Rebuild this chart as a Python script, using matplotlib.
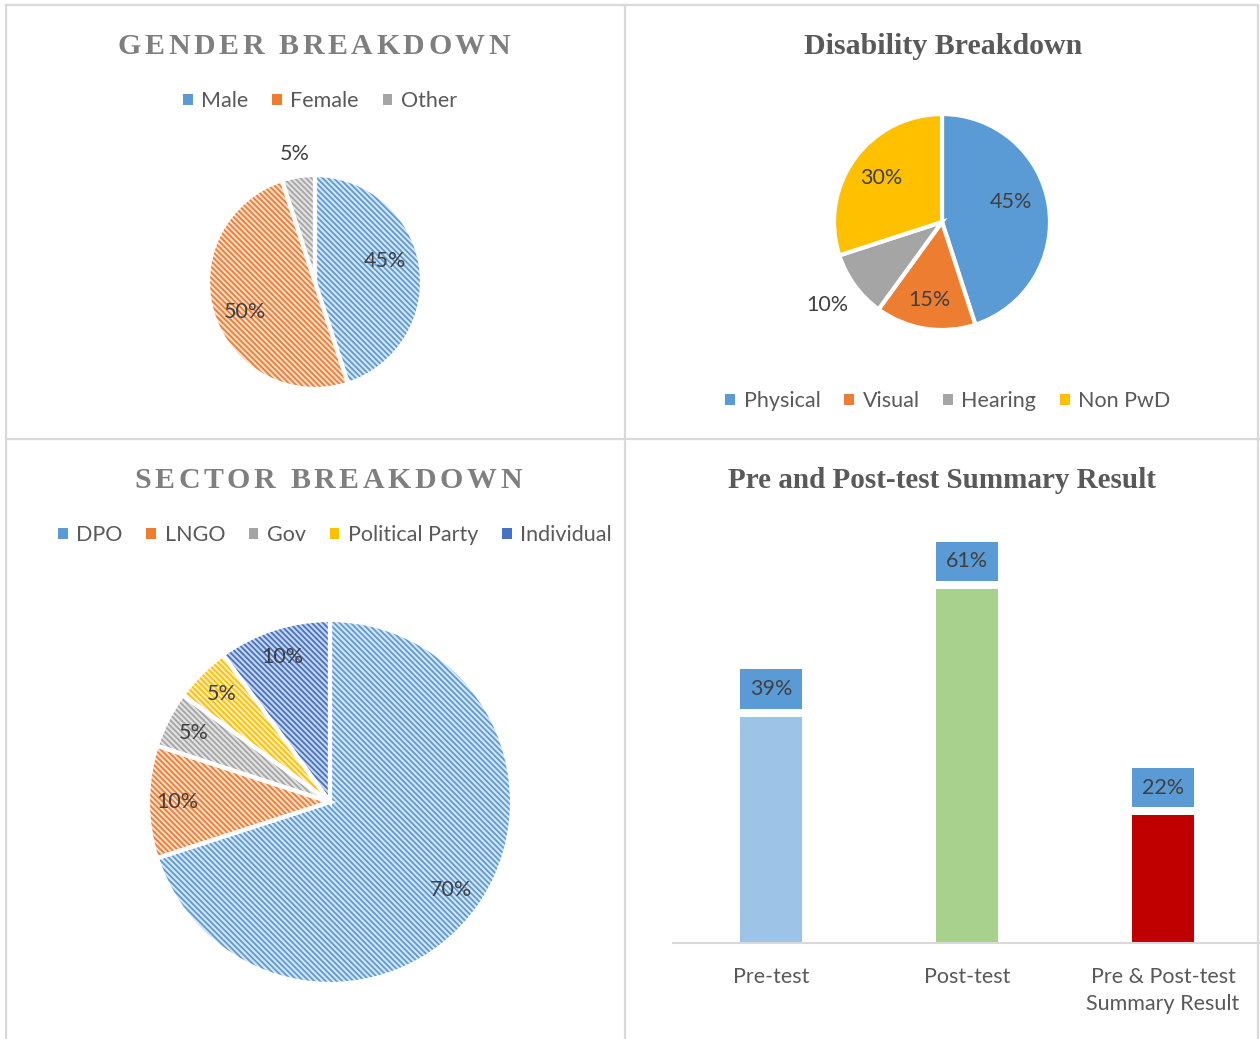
import numpy as np
import matplotlib
matplotlib.use('agg')
from matplotlib import pyplot as plt
from matplotlib.lines import Line2D
from matplotlib.patches import Patch

plt.rcParams['font.family'] = ['Lato', 'DejaVu Sans']
plt.rcParams['hatch.linewidth'] = 1.3

# ---- data ----
gender_labels = ['Male', 'Female', 'Other']
gender_values = [45, 50, 5]

disab_labels = ['Physical', 'Visual', 'Hearing', 'Non PwD']
disab_values = [45, 15, 10, 30]

sector_labels = ['DPO', 'LNGO', 'Gov', 'Political Party', 'Individual']
sector_values = [70, 10, 5, 5, 10]

test_labels = ['Pre-test', 'Post-test', 'Pre & Post-test\nSummary Result']
test_values = [39, 61, 22]

# ---- styles ----
W, H = 1260, 1039
TXT = '#404040'
LEG = '#595959'
gender_stripes = ['#5B9BD5', '#ED7D31', '#A5A5A5']
gender_tints = ['#D6E5F5', '#FADCC8', '#E2E2E2']
disab_colors = ['#5B9BD5', '#ED7D31', '#A5A5A5', '#FFC000']
sector_stripes = ['#5B9BD5', '#ED7D31', '#A5A5A5', '#FFC000', '#4472C4']
sector_tints = ['#D6E5F5', '#FADCC8', '#E2E2E2', '#FFEDB8', '#C8D5EE']
bar_colors = ['#9DC3E6', '#A9D18E', '#C00000']

fig = plt.figure(figsize=(W / 100, H / 100), dpi=100)
renderer = fig.canvas.get_renderer()


def fx(px):
    return px / W


def fy(py):
    return 1 - py / H


def pie_axes(cx, cy, r):
    ax = fig.add_axes([fx(cx - r), fy(cy + r), 2 * r / W, 2 * r / H])
    ax.axis('off')
    return ax


def fix_limits(ax):
    ax.set_xlim(-1, 1)
    ax.set_ylim(-1, 1)


def hatched_pie(ax, values, tints, stripes):
    wedges, _ = ax.pie(values, colors=tints, startangle=90, counterclock=False,
                       radius=1, wedgeprops=dict(linewidth=0, hatch='\\\\\\\\\\\\'))
    for w, c in zip(wedges, stripes):
        w.set_edgecolor(c)
        w.set_linewidth(0)
    ax.pie(values, colors=['none'] * len(values), startangle=90, counterclock=False,
           radius=1, wedgeprops=dict(edgecolor='white', linewidth=3, fill=False))
    fix_limits(ax)
    return wedges


def pct_labels(ax, wedges, values, dists, shifts, size=15.5):
    for w, v, d, s in zip(wedges, values, dists, shifts):
        ang = np.deg2rad((w.theta1 + w.theta2) / 2 + s)
        ax.text(d * np.cos(ang), d * np.sin(ang), f'{v}%', ha='center', va='center',
                fontsize=size, color=TXT)


def spaced_title(s, xc, yc, spacing, **kw):
    widths = []
    for ch in s:
        if ch == ' ':
            a = fig.text(0, 0, 'I I', **kw)
            b = fig.text(0, 0, 'II', **kw)
            w = a.get_window_extent(renderer).width - b.get_window_extent(renderer).width
            a.remove()
            b.remove()
        else:
            t = fig.text(0, 0, ch, **kw)
            w = t.get_window_extent(renderer).width
            t.remove()
        widths.append(w)
    total = sum(widths) + spacing * (len(s) - 1)
    x = xc - total / 2
    for ch, w in zip(s, widths):
        if ch != ' ':
            fig.text(fx(x + w / 2), fy(yc), ch, ha='center', va='center', **kw)
        x += w + spacing


def legend(labels, colors, xc, yc):
    handles = [Patch(facecolor=c, edgecolor='none') for c in colors]
    fig.legend(handles, labels, loc='center', bbox_to_anchor=(fx(xc), fy(yc)),
               ncol=len(labels), frameon=False, fontsize=15.5, labelcolor=LEG,
               handlelength=0.45, handleheight=0.45, handletextpad=0.4, columnspacing=1.1)


title_kw = dict(family='Liberation Serif', fontweight='bold', fontsize=21.5)

# ---- panel borders ----
bc = '#D9D9D9'
for xs, ys in [([6, 1258], [5, 5]), ([6, 1260], [439, 439]),
               ([6, 6], [5, 1039]), ([625, 625], [5, 1039]), ([1258, 1258], [5, 1039])]:
    fig.add_artist(Line2D([fx(x) for x in xs], [fy(y) for y in ys], color=bc, lw=1.6))

# ---- Gender ----
spaced_title('GENDER BREAKDOWN', 314, 46, 3.6, color='#7F7F7F', **title_kw)
ax1 = pie_axes(315, 282, 107)
w1 = hatched_pie(ax1, gender_values, gender_tints, gender_stripes)
pct_labels(ax1, w1, gender_values, [0.68, 0.71, 1.21], [8, 5, 0])
legend(gender_labels, gender_stripes, 320, 101)

# ---- Disability ----
fig.text(fx(943), fy(46), 'Disability Breakdown', ha='center', va='center', color='#595959', **title_kw)
ax2 = pie_axes(942, 222, 108)
w2, _ = ax2.pie(disab_values, colors=disab_colors, startangle=90, counterclock=False,
                wedgeprops=dict(edgecolor='white', linewidth=3))
fix_limits(ax2)
pct_labels(ax2, w2, disab_values, [0.66, 0.73, 1.31, 0.70], [7, 0, 0, 0])
legend(disab_labels, disab_colors, 948, 401)

# ---- Sector ----
spaced_title('SECTOR BREAKDOWN', 328, 480, 3.6, color='#7F7F7F', **title_kw)
ax3 = pie_axes(330, 802, 182)
w3 = hatched_pie(ax3, sector_values, sector_tints, sector_stripes)
pct_labels(ax3, w3, sector_values, [0.82, 0.84, 0.84, 0.84, 0.84], [0, 0, 0, 0, 0])
legend(sector_labels, sector_stripes, 335, 535)

# ---- Pre/Post bar ----
fig.text(fx(942), fy(480), 'Pre and Post-test Summary Result', ha='center', va='center',
         color='#595959', family='Liberation Serif', fontweight='bold', fontsize=21)
ax4 = fig.add_axes([fx(673), fy(943), 588 / W, 403 / H])
x = np.arange(len(test_values))
ax4.bar(x, test_values, width=0.316, color=bar_colors)
ax4.set_xlim(-0.5, 2.5)
ax4.set_ylim(0, 403 / 5.803)
for xi, v in zip(x, test_values):
    ax4.annotate(f'{v}%', (xi, v), xytext=(0, 20), textcoords='offset points',
                 ha='center', va='center', fontsize=15.5, color=TXT,
                 bbox=dict(boxstyle='square,pad=0.45', fc='#5B9BD5', ec='none'))
ax4.set_xticks(x)
ax4.set_xticklabels(test_labels, fontsize=15.5, color=LEG, linespacing=1.45, va='top')
ax4.tick_params(axis='x', length=0, pad=17)
ax4.set_yticks([])
for s in ['top', 'left', 'right']:
    ax4.spines[s].set_visible(False)
ax4.spines['bottom'].set_color('#D9D9D9')
ax4.spines['bottom'].set_linewidth(1.5)
ax4.patch.set_alpha(0)

fig.savefig('out.png', dpi=100)
